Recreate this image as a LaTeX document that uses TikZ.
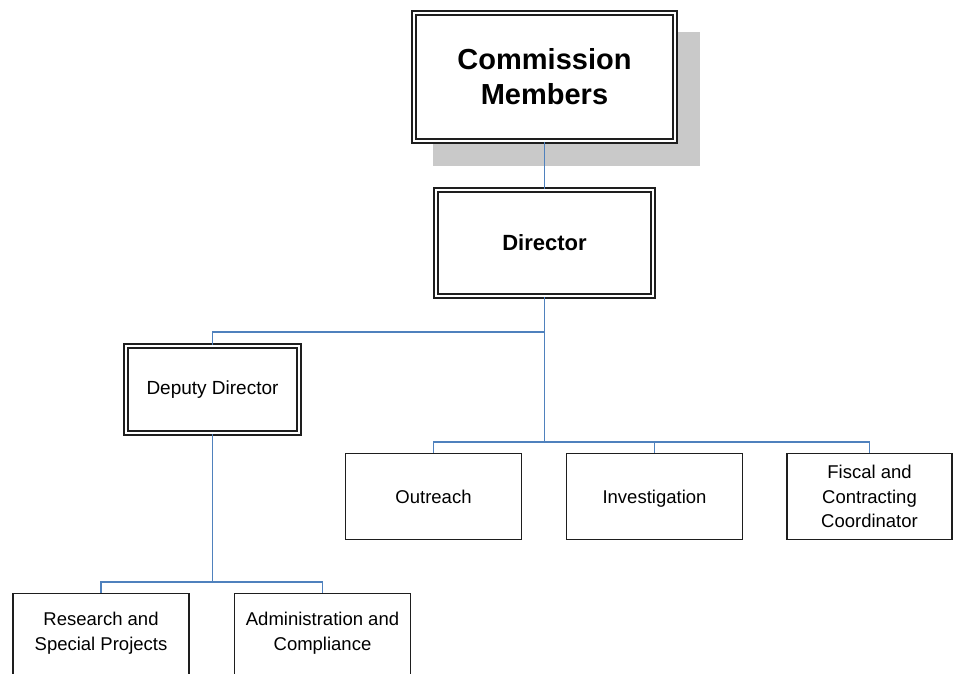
\documentclass[tikz,border=0pt]{standalone}
\usepackage{fontspec}
\setmainfont{Liberation Sans}
\usetikzlibrary{shadows}
\definecolor{linkblue}{RGB}{79,129,189}
\definecolor{boxline}{RGB}{30,30,30}
\begin{document}
\begin{tikzpicture}[x=1pt, y=-1pt,
  dbox/.style={rectangle, draw=boxline, fill=white, double=white, line width=1.9pt, double distance=2.4pt, align=center, inner sep=0pt},
  sbox/.style={rectangle, draw=boxline, fill=white, line width=1.6pt, align=center, inner sep=0pt, minimum width=176pt, minimum height=86pt, font=\fontsize{18.5}{24.5}\selectfont},
  link/.style={draw=linkblue, line width=1.8pt}]
\useasboundingbox (0,0) rectangle (953,673);
% top of the chart
\node[dbox, minimum width=260.8pt, minimum height=127.8pt, font=\fontsize{29}{35}\selectfont\bfseries, drop shadow={shadow xshift=22pt, shadow yshift=-22pt, fill=black!21, draw=black!21, line width=6.2pt, opacity=1}] (comm) at (544.5,77) {Commission\\Members};
\node[dbox, minimum width=216.8pt, minimum height=105.8pt, font=\fontsize{22}{26}\selectfont\bfseries] (dir) at (544.5,243) {Director};
\node[dbox, minimum width=172.8pt, minimum height=86.8pt, font=\fontsize{19}{23}\selectfont] (dep) at (212.5,389.5) {Deputy Director};
% units under the director
\node[sbox] (out) at (433.5,496.5) {Outreach};
\node[sbox, text depth=0pt] (inv) at (654.5,496.5) {Investigation};
\node[sbox, minimum width=165pt] (fisc) at (869.5,496.5) {Fiscal and\\Contracting\\Coordinator};
% units under the deputy
\node[sbox, text depth=10pt] (res) at (101,636.5) {Research and\\Special Projects};
\node[sbox, text depth=10pt] (adm) at (322.5,636.5) {Administration and\\Compliance};
\coordinate (split) at (544.5,332);
\coordinate (rowbar) at (544.5,442);
\coordinate (lowbar) at (212.5,582);
\draw[link] (comm) -- (dir);
\draw[link] (dir) -- (rowbar);
\draw[link] (split) -| (dep);
\draw[link] (out.north) |- (rowbar) -| (fisc.north);
\draw[link] (rowbar -| inv) -- (inv);
\draw[link] (dep) -- (lowbar);
\draw[link] (res.north) |- (lowbar) -| (adm.north);
\end{tikzpicture}
\end{document}
